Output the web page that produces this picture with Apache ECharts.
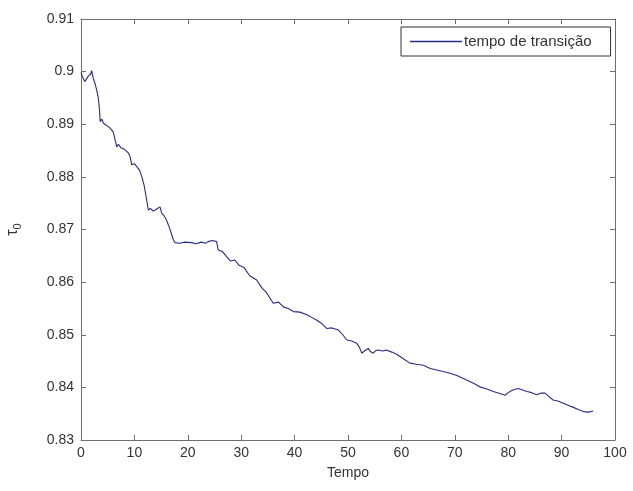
<!DOCTYPE html>
<html>
<head>
<meta charset="utf-8">
<script src="https://cdn.jsdelivr.net/npm/echarts@6/dist/echarts.min.js"></script>
<style>
  html, body { margin: 0; padding: 0; background: #fff; }
  #chart { width: 633px; height: 491px; }
</style>
</head>
<body>
<div id="chart"></div>
<script>
// Transition time tau_0 sampled over time
const tempo = [0, 0.3, 0.7, 1.0, 1.4, 1.8, 2.0, 2.3, 2.7, 3.0, 3.2, 3.4, 3.6, 3.9, 4.2, 4.5, 4.9, 5.4, 5.7, 6.0,
  6.4, 6.7, 7.0, 7.5, 7.9, 8.4, 8.9, 9.2, 9.5, 10.0, 10.4, 10.7, 11.0, 11.4, 11.8, 12.3, 12.6, 13.0, 13.5, 13.9,
  14.3, 14.8, 15.1, 15.5, 16.0, 16.5, 17.0, 17.3, 17.6, 18.5, 19.5, 20.7, 21.5, 22.5, 23.3, 23.8, 24.6, 25.4, 25.7, 26.5,
  27.3, 28.0, 28.8, 29.6, 30.5, 31.6, 32.9, 33.8, 34.8, 36.0, 37.0, 37.9, 38.8, 39.8, 41.0, 42.3, 43.2, 44.1, 45.0, 46.0,
  47.0, 48.2, 49.0, 49.8, 50.7, 51.6, 52.1, 52.6, 53.2, 53.8, 54.2, 54.7, 55.2, 55.7, 56.5, 57.2, 58.2, 59.1, 60.3, 61.6,
  62.8, 64.1, 65.4, 66.6, 67.8, 69.1, 70.5, 72.2, 73.5, 74.7, 76.0, 77.2, 78.3, 79.4, 80.3, 81.1, 81.9, 82.7, 83.5, 84.4,
  85.3, 86.1, 86.9, 87.6, 88.4, 89.3, 90.3, 91.2, 92.2, 93.1, 94.1, 95.0, 95.9];

const tempoTransicao = [0.8998, 0.8990, 0.8981, 0.8983, 0.8992, 0.8995, 0.9002, 0.8987, 0.8975, 0.8962, 0.8952, 0.8935, 0.8905, 0.8910, 0.8902, 0.8899, 0.8897, 0.8893, 0.8895, 0.8886,
  0.8870, 0.8857, 0.8862, 0.8855, 0.8854, 0.8850, 0.8845, 0.8838, 0.8823, 0.8825, 0.8820, 0.8819, 0.8812, 0.8800, 0.8785, 0.8756, 0.8737, 0.8740, 0.8735, 0.8737,
  0.8740, 0.8743, 0.8731, 0.8727, 0.8718, 0.8705, 0.8690, 0.8680, 0.8675, 0.8674, 0.8676, 0.8675, 0.8673, 0.8676, 0.8674, 0.8677, 0.8679, 0.8677, 0.8661, 0.8658,
  0.8648, 0.8640, 0.8642, 0.8632, 0.8628, 0.8612, 0.8604, 0.8590, 0.8579, 0.8560, 0.8562, 0.8553, 0.8550, 0.8544, 0.8543, 0.8538, 0.8533, 0.8528, 0.8522, 0.8512,
  0.8513, 0.8509, 0.8500, 0.8490, 0.8488, 0.8484, 0.8477, 0.8465, 0.8470, 0.8474, 0.8468, 0.8465, 0.8470, 0.8471, 0.8469, 0.8471, 0.8467, 0.8463, 0.8455, 0.8446,
  0.8444, 0.8442, 0.8436, 0.8433, 0.8430, 0.8427, 0.8422, 0.8414, 0.8408, 0.8401, 0.8397, 0.8392, 0.8389, 0.8385, 0.8392, 0.8396, 0.8398, 0.8395, 0.8392, 0.8390,
  0.8386, 0.8389, 0.8389, 0.8383, 0.8376, 0.8374, 0.8370, 0.8366, 0.8362, 0.8358, 0.8354, 0.8353, 0.8355];

const xTicks = { min: 0, max: 100, step: 10 };
const yTicks = { min: 0.83, max: 0.91, step: 0.01 };

const seriesName = 'tempo de transição';
const xLabel = 'Tempo';

const FONT = '"Liberation Sans", Arial, sans-serif';
const TEXT = '#333';
const AXIS = '#6e6e6e';
const LINE = '#2a2a8e';

const points = tempo.map((t, i) => [t, tempoTransicao[i]]);

const chart = echarts.init(document.getElementById('chart'), null, { renderer: 'canvas' });

const baseAxis = {
  axisLine: { show: true, onZero: false, lineStyle: { color: AXIS, width: 1 } },
  axisTick: { show: true, inside: true, length: 5, lineStyle: { color: AXIS } },
  splitLine: { show: false },
  axisLabel: { show: false }
};

chart.setOption({
  animation: false,
  backgroundColor: '#fff',
  grid: { left: 81, top: 19, width: 534, height: 421, containLabel: false, outerBoundsMode: 'none' },
  legend: {
    data: [{ name: seriesName, icon: 'rect' }],
    left: 401, top: 27,
    orient: 'horizontal',
    padding: [7, 19, 7, 9],
    itemWidth: 52, itemHeight: 1.5, itemGap: 0,
    backgroundColor: '#fff',
    borderColor: '#333', borderWidth: 1, borderRadius: 0,
    textStyle: { fontFamily: FONT, fontSize: 15, color: TEXT, padding: [0, 0, 0, -3], lineHeight: 15 }
  },
  xAxis: [
    Object.assign({}, baseAxis, {
      type: 'value', position: 'bottom',
      min: xTicks.min, max: xTicks.max, interval: xTicks.step,
      name: xLabel, nameLocation: 'middle', nameGap: 26,
      nameTextStyle: { fontFamily: FONT, fontSize: 14, color: TEXT },
      axisLabel: { show: true, margin: 6, fontFamily: FONT, fontSize: 14, color: TEXT }
    }),
    Object.assign({}, baseAxis, {
      type: 'value', position: 'top',
      min: xTicks.min, max: xTicks.max, interval: xTicks.step
    })
  ],
  yAxis: [
    Object.assign({}, baseAxis, {
      type: 'value', position: 'left',
      min: yTicks.min, max: yTicks.max, interval: yTicks.step,
      name: '{a|τ}{b|0}', nameLocation: 'middle', nameRotate: 90, nameGap: 58,
      nameTextStyle: {
        color: TEXT,
        rich: {
          a: { fontFamily: FONT, fontSize: 16, color: TEXT },
          b: { fontFamily: FONT, fontSize: 11, color: TEXT, padding: [9, 0, 0, 0] }
        }
      },
      axisLabel: {
        show: true, margin: 7, fontFamily: FONT, fontSize: 14, color: TEXT,
        formatter: v => String(parseFloat(v.toFixed(2)))
      }
    }),
    Object.assign({}, baseAxis, {
      type: 'value', position: 'right',
      min: yTicks.min, max: yTicks.max, interval: yTicks.step
    })
  ],
  series: [{
    name: seriesName,
    type: 'line',
    xAxisIndex: 0, yAxisIndex: 0,
    data: points,
    symbol: 'none',
    lineStyle: { color: LINE, width: 1.1 },
    itemStyle: { color: LINE }
  }]
});
</script>
</body>
</html>
